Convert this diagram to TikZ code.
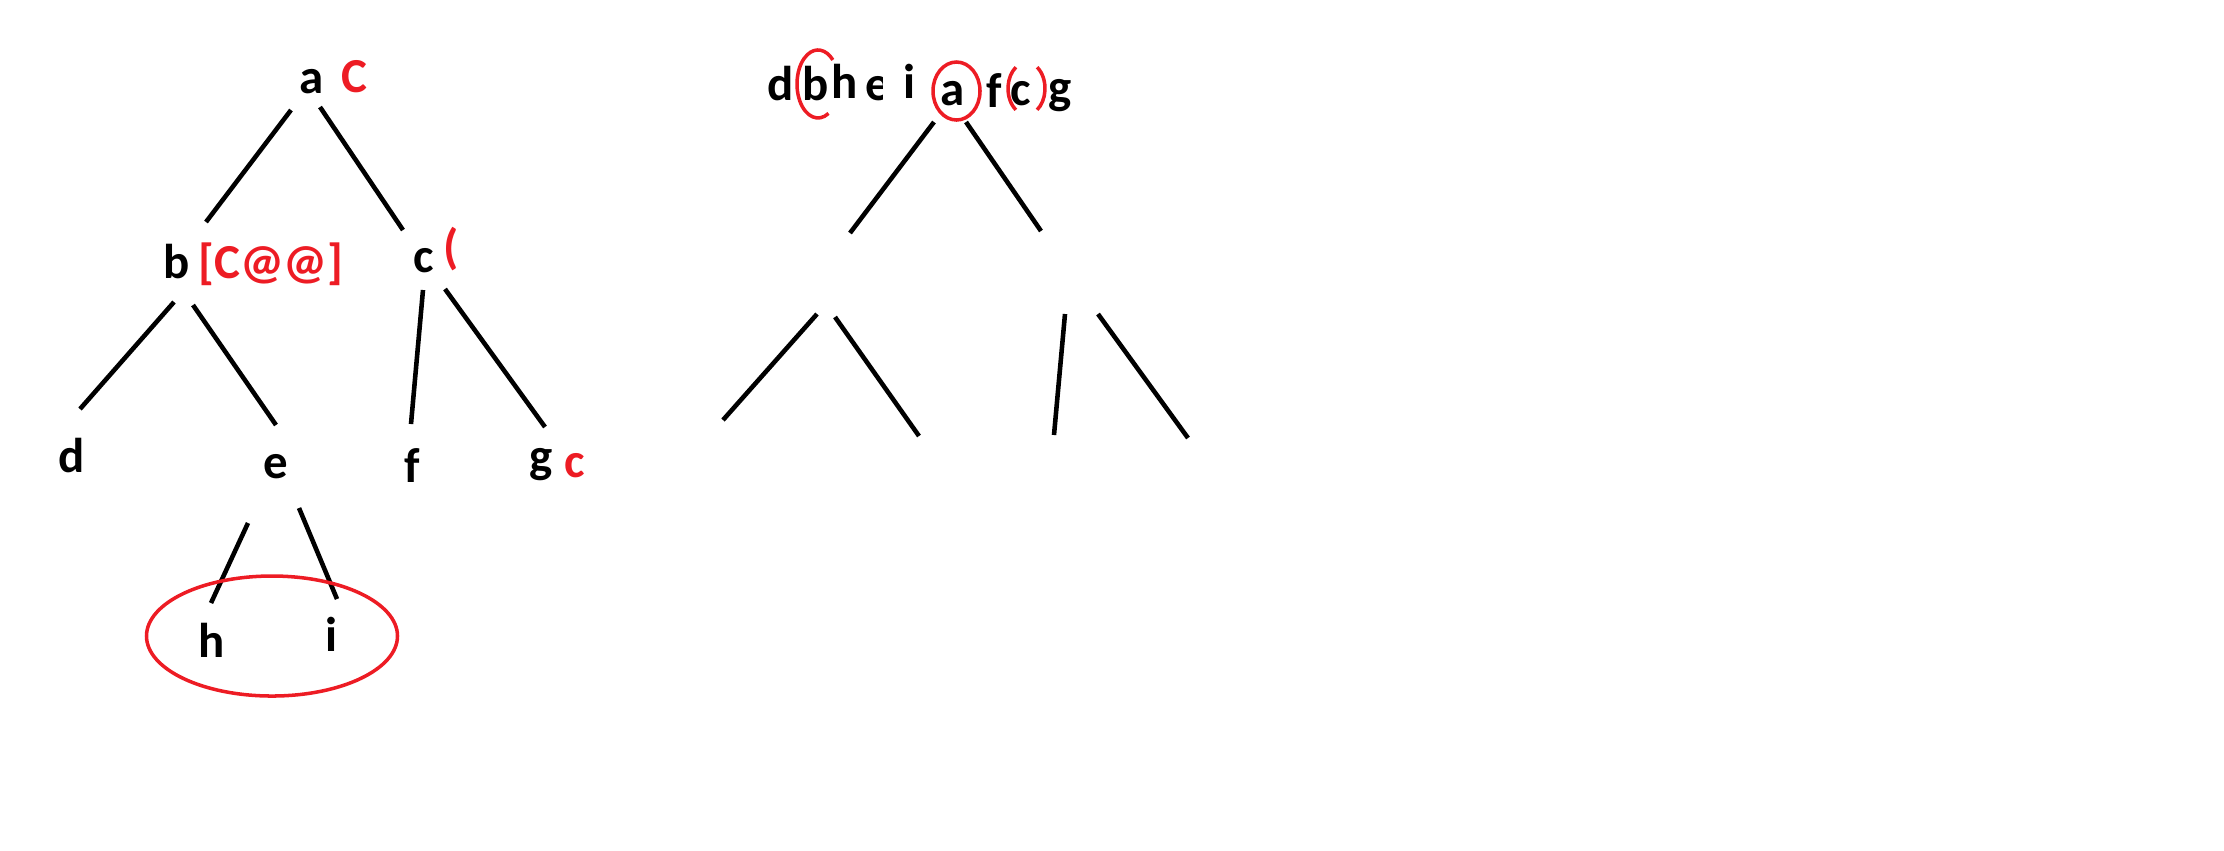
\documentclass[tikz,border=0pt]{standalone}
\usepackage{fontspec}
\setmainfont{Carlito}
\usetikzlibrary{calc}
\definecolor{paintred}{RGB}{237,28,36}

\begin{document}
\begin{tikzpicture}[x=0.01cm, y=-0.01cm,
                    letter/.style={font=\fontsize{13.9}{16}\selectfont\bfseries, anchor=base, inner sep=0pt},
                    note/.style={letter, text=paintred},
                    branch/.style={line width=1.3pt},
                    ring/.style={draw=paintred, line width=1pt}]
  \useasboundingbox (0,0) rectangle (2224,850);

  % the tree
  \node[letter] (a) at (312,93) {a};
  \node[letter] (b) at (177,278) {b};
  \node[letter] (c) at (424,272) {c};
  \node[letter] (d) at (72,472) {d};
  \node[letter] (e) at (276,478) {e};
  \node[letter] (f) at (412,482) {f};
  \node[letter] (g) at (541,472) {g};
  \node[letter] (h) at (212,657) {h};
  \node[letter] (i) at (331,651) {i};

  \node[note] (na) at (354,92) {C};
  \node[note] (nb) at (271,278) {[C@@]};
  \node[note] (nc) at (451,263) {(};
  \node[note] (ng) at (575,477) {c};

  \path[branch]
    ($(a.base)+(-21,17)$) edge ($(b.base)+(29,-56)$)
    ($(a.base)+(8,14)$)   edge ($(c.base)+(-21,-42)$)
    ($(b.base)+(-3,24)$)  edge ($(d.base)+(8,-63)$)
    ($(b.base)+(16,27)$)  edge ($(e.base)+(0,-53)$)
    ($(c.base)+(-1,18)$)  edge ($(f.base)+(-1,-58)$)
    ($(c.base)+(21,17)$)  edge ($(g.base)+(4,-45)$)
    ($(e.base)+(-28,45)$) edge ($(h.base)+(-1,-54)$)
    ($(e.base)+(23,30)$)  edge ($(i.base)+(6,-52)$);

  \draw[ring] (272,636) ellipse [x radius=125.5, y radius=60];

  % inorder row
  \node[letter] (id) at (781,100) {d};
  \node[letter] (ib) at (816,100) {b};
  \node[letter] (ih) at (845,98) {h};
  \begin{scope}
    \clip (860,60) rectangle (882,112);
    \node[letter] (ie) at (877.6,100) {e};
  \end{scope}
  \node[letter] (ii) at (909,98) {i};
  \node[letter] (ia) at (953,105) {a};
  \node[letter] (if) at (994,107) {f};
  \node[letter] (ic) at (1021,105) {c};
  \node[letter] (ig) at (1060,103) {g};

  \draw[ring] (828.5,113.4) arc[start angle=60, end angle=315, x radius=21, y radius=34];
  \draw[ring] (956.5,91) ellipse [x radius=23.5, y radius=29];
  \draw[ring] (1015.9,109.8) arc[start angle=125, end angle=235, x radius=18.5, y radius=26];
  \draw[ring] (1037.1,67.2) arc[start angle=-55, end angle=55, x radius=18.5, y radius=26];

  % empty tree
  \coordinate (rb1) at (850,233);
  \coordinate (rb2) at (817,314);
  \coordinate (rb3) at (835,317);
  \coordinate (rc1) at (1041,231);
  \coordinate (rc2) at (1065,314);
  \coordinate (rc3) at (1098,314);
  \coordinate (rd) at (723,420);
  \coordinate (re) at (919,436);
  \coordinate (rf) at (1054,435);
  \coordinate (rg) at (1188,438);

  \path[branch]
    ($(ia.base)+(-19,17)$) edge (rb1)
    ($(ia.base)+(13,17)$)  edge (rc1)
    (rb2) edge (rd)
    (rb3) edge (re)
    (rc2) edge (rf)
    (rc3) edge (rg);
\end{tikzpicture}
\end{document}
